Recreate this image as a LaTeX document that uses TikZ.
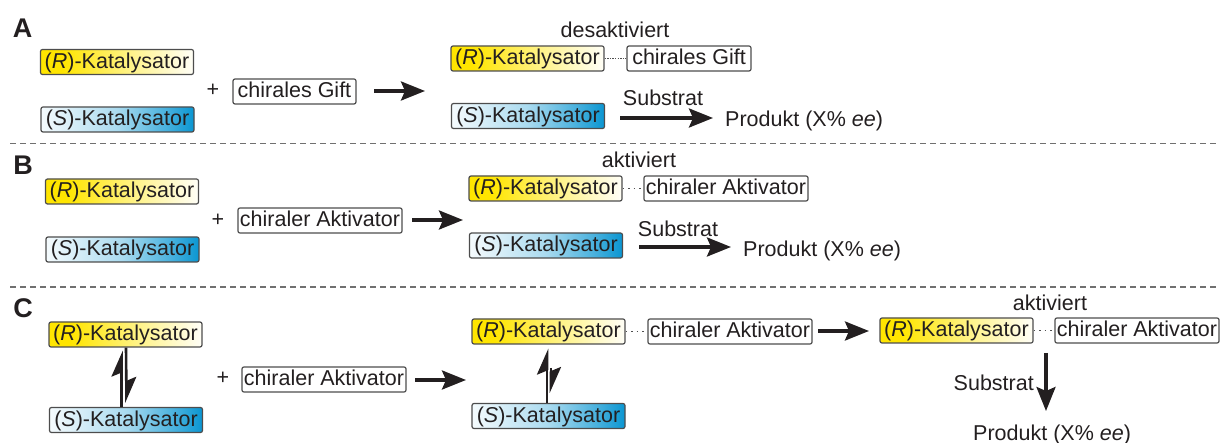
\documentclass[tikz,border=0pt]{standalone}
\usepackage{fontspec}
\setmainfont{Liberation Sans}
\usetikzlibrary{arrows.meta}
\definecolor{ink}{HTML}{231F20}
\definecolor{boxline}{HTML}{4D4D4D}
\definecolor{ryel}{HTML}{FFE500}
\definecolor{sblue}{HTML}{0A96D2}
\definecolor{sepgray}{HTML}{707070}
\definecolor{dotgray}{HTML}{505050}
\pgfdeclarehorizontalshading{rshade}{100bp}{color(0bp)=(ryel); color(25bp)=(ryel); color(32bp)=(ryel); color(55bp)=(ryel!45!white); color(75bp)=(ryel!3!white); color(100bp)=(ryel!3!white)}
\pgfdeclarehorizontalshading{sshade}{100bp}{color(0bp)=(sblue!4!white); color(25bp)=(sblue!4!white); color(50bp)=(sblue!35!white); color(66bp)=(sblue!75!white); color(75bp)=(sblue); color(100bp)=(sblue)}
\tikzset{
  every node/.style={text=ink, font=\fontsize{21.5}{25}\selectfont},
  kat/.style={draw=boxline, line width=1.2pt, rounded corners=2pt, inner xsep=4pt, inner ysep=1.5pt, text height=17.5pt, text depth=4.5pt, minimum width=153pt},
  rkat/.style={kat, shading=rshade},
  skat/.style={kat, shading=sshade},
  partner/.style={draw=boxline, line width=1.2pt, rounded corners=2pt, fill=white, inner xsep=2pt, inner ysep=1.5pt, text height=17.5pt, text depth=4.5pt, minimum width=164pt},
  lab/.style={font=\fontsize{27}{30}\selectfont\bfseries, anchor=base, inner sep=0pt},
  plain/.style={anchor=base, inner sep=0pt},
  plus/.style={inner sep=0pt},
  react/.style={line width=3.2pt, draw=ink, -{Stealth[length=24pt 0 0,width=19pt 0 0,inset=4pt]}},
  eqarr/.style={line width=2.6pt, draw=ink, -{Stealth[harpoon,length=23pt 0 0,width=20pt 0 0,inset=4pt]}},
  dotlink/.style={draw=dotgray, line width=1.1pt, dash pattern=on 1.3pt off 1.3pt},
  dotlinkw/.style={draw=dotgray, line width=1.1pt, dash pattern=on 1.5pt off 4pt},
  sep/.style={draw=sepgray, line width=1.8pt, dash pattern=on 6pt off 4pt},
}
\begin{document}
\begin{tikzpicture}[x=1pt,y=-1pt]
\useasboundingbox (0,0) rectangle (1221,443);
% separators
\draw[sep] (10,143.5) -- (1218,143.5);
\draw[sep] (10,287) -- (1218,287);
% ---------------- A ----------------
\node[lab] (labA) at (22.5,38) {A};
\node[rkat] (aR) at (117,62) {(\textit{R})-Katalysator};
\node[skat] (aS) at (117.5,119.5) {(\textit{S})-Katalysator};
\node[plus] (aPlus) at (213,90) {+};
\node[partner, minimum width=123pt] (aG) at (294.5,91.5) {chirales Gift};
\coordinate (aArr1s) at (374,91);
\coordinate (aArr1e) at (425,91);
\draw[react] (aArr1s) -- (aArr1e);
\node[plain] (aDes) at (615,38) {desaktiviert};
\node[rkat] (aR2) at (527.5,58.5) {(\textit{R})-Katalysator};
\node[partner, minimum width=124pt] (aG2) at (689,58.5) {chirales Gift};
\draw[dotlink] (aR2.east) -- (aG2.west);
\node[skat] (aS2) at (528,116) {(\textit{S})-Katalysator};
\node[plain] (aSub) at (663,106) {Substrat};
\coordinate (aArr2s) at (620,118);
\coordinate (aArr2e) at (713,118);
\draw[react] (aArr2s) -- (aArr2e);
\node[plain, anchor=base west] (aProd) at (725,127) {Produkt (X\% \textit{ee})};
% ---------------- B ----------------
\node[lab] (labB) at (23,175) {B};
\node[rkat] (bR) at (122,191.5) {(\textit{R})-Katalysator};
\node[skat] (bS) at (122.5,249.5) {(\textit{S})-Katalysator};
\node[plus] (bPlus) at (218,220) {+};
\node[partner] (bA) at (320,220.5) {chiraler Aktivator};
\coordinate (bArr1s) at (412,220);
\coordinate (bArr1e) at (463,220);
\draw[react] (bArr1s) -- (bArr1e);
\node[plain] (bAkt) at (639,168) {aktiviert};
\node[rkat] (bR2) at (545.5,188.5) {(\textit{R})-Katalysator};
\node[partner] (bA2) at (726,188.5) {chiraler Aktivator};
\draw[dotlinkw] (bR2.east) -- (bA2.west);
\node[skat] (bS2) at (546,245.5) {(\textit{S})-Katalysator};
\node[plain] (bSub) at (678,237) {Substrat};
\coordinate (bArr2s) at (639,247);
\coordinate (bArr2e) at (731,247);
\draw[react] (bArr2s) -- (bArr2e);
\node[plain, anchor=base west] (bProd) at (743,257) {Produkt (X\% \textit{ee})};
% ---------------- C ----------------
\node[lab] (labC) at (23,318) {C};
\node[rkat] (cR) at (125.5,334.5) {(\textit{R})-Katalysator};
\node[skat] (cS) at (126,420) {(\textit{S})-Katalysator};
\draw[eqarr] ([xshift=-4.5pt]cS.north) -- ([xshift=-4pt,yshift=-3pt]cR.south);
\draw[eqarr] ([xshift=0.5pt]cR.south) -- ([xshift=0.5pt,yshift=4pt]cS.north);
\node[plus] (cPlus) at (223,378) {+};
\node[partner] (cA) at (324,379.5) {chiraler Aktivator};
\coordinate (cArr1s) at (415,380);
\coordinate (cArr1e) at (466,380);
\draw[react] (cArr1s) -- (cArr1e);
\node[rkat] (cR2) at (548.5,331.5) {(\textit{R})-Katalysator};
\node[partner] (cA2) at (730,331.5) {chiraler Aktivator};
\draw[dotlinkw] (cR2.east) -- (cA2.west);
\node[skat] (cS2) at (548.5,416) {(\textit{S})-Katalysator};
\draw[eqarr] ([xshift=-1.5pt]cS2.north) -- ([xshift=-1.5pt,yshift=-4pt]cR2.south);
\coordinate (cEq2s) at (551,368);
\coordinate (cEq2e) at (551,393);
\draw[eqarr] (cEq2s) -- (cEq2e);
\coordinate (cArr2s) at (818,331);
\coordinate (cArr2e) at (869,331);
\draw[react] (cArr2s) -- (cArr2e);
\node[plain] (cAkt) at (1050,310.5) {aktiviert};
\node[rkat] (cR3) at (956.5,330.5) {(\textit{R})-Katalysator};
\node[partner, minimum width=162pt] (cA3) at (1137,330.5) {chiraler Aktivator};
\draw[dotlinkw] (cR3.east) -- (cA3.west);
\coordinate (cArr3s) at (1046,353);
\coordinate (cArr3e) at (1046,411);
\draw[react] (cArr3s) -- (cArr3e);
\node[plain, anchor=base east] (cSub) at (1034,390.5) {Substrat};
\node[plain, anchor=base west] (cProd) at (973,440.5) {Produkt (X\% \textit{ee})};
\end{tikzpicture}
\end{document}
